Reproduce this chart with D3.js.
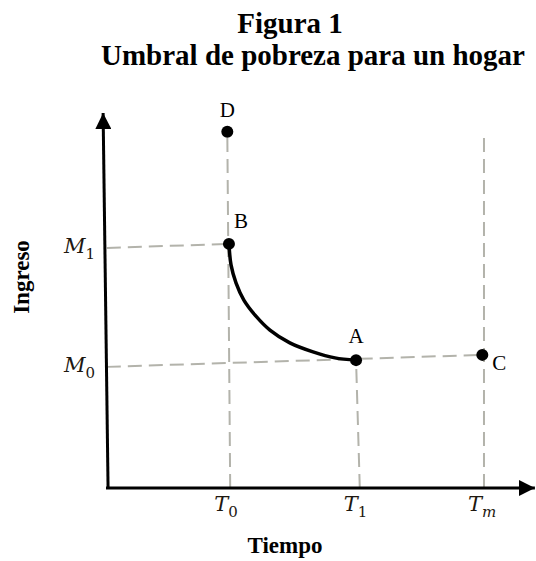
<!DOCTYPE html>
<html>
<head>
<meta charset="utf-8">
<script src="https://cdn.jsdelivr.net/npm/d3@7"></script>
<style>
  body { margin: 0; background: #fff; }
  .title { font-family: "Liberation Serif", "Times New Roman", serif; font-weight: bold; font-size: 29px; }
  .axis-title { font-family: "Liberation Serif", "Times New Roman", serif; font-weight: bold; font-size: 23px; }
  .point-label { font-family: "Liberation Serif", "Times New Roman", serif; font-size: 21px; }
  .tick-label { font-family: "DejaVu Serif", serif; font-style: italic; font-size: 21px; fill: #1e1810; }
  .tick-label tspan.sub { font-style: normal; font-size: 15px; }
  .tick-label tspan.sub.it { font-style: italic; }
</style>
</head>
<body>
<svg id="chart"></svg>
<script>
// ticks on the axes (value on the abstract 0..10 scale)
const xTicks = [{name: 'T', sub: '0', v: 3.0}, {name: 'T', sub: '1', v: 6.13}, {name: 'T', sub: 'm', v: 9.13}];
const yTicks = [{name: 'M', sub: '0', v: 3.23}, {name: 'M', sub: '1', v: 6.4}];

// labelled points
const pointNames = ['D', 'B', 'A', 'C'];
const pointX = [2.93, 2.97, 6.04, 9.09];
const pointY = [9.5, 6.51, 3.41, 3.55];

// curve from B down to A
const curveX = [2.97, 3.02, 3.14, 3.33, 3.60, 3.96, 4.44, 5.00, 5.53, 6.04];
const curveY = [6.51, 5.95, 5.47, 5.01, 4.61, 4.21, 3.87, 3.63, 3.47, 3.41];

// dashed guide segments [x1, y1, x2, y2]
const guides = [
  [0.02, 6.4, 2.97, 6.51],   // M1 -> B
  [0.02, 3.23, 9.09, 3.55],  // M0 -> C
  [3.0, 0, 2.93, 9.5],       // T0 -> D
  [6.13, 0, 6.04, 3.41],     // T1 -> A
  [9.13, 0, 9.13, 9.36]      // Tm
];

const width = 536;
const height = 561;

const svg = d3.select('#chart')
  .attr('width', width)
  .attr('height', height);

const x = d3.scaleLinear().domain([0, 10]).range([106, 520]);
const y = d3.scaleLinear().domain([0, 10]).range([488, 113]);

// titles
svg.append('text')
  .attr('class', 'title')
  .attr('x', 290)
  .attr('y', 33)
  .attr('text-anchor', 'middle')
  .text('Figura 1');
svg.append('text')
  .attr('class', 'title')
  .attr('x', 313)
  .attr('y', 65)
  .attr('text-anchor', 'middle')
  .text('Umbral de pobreza para un hogar');

// arrow heads
const defs = svg.append('defs');
defs.append('marker')
  .attr('id', 'arrow')
  .attr('markerUnits', 'userSpaceOnUse')
  .attr('viewBox', '0 -8 16 16')
  .attr('refX', 16)
  .attr('refY', 0)
  .attr('markerWidth', 16)
  .attr('markerHeight', 16)
  .attr('orient', 'auto')
  .append('path')
  .attr('d', 'M0,-8L16,0L0,8Z')
  .attr('fill', '#000');

// dashed guides
svg.append('g')
  .selectAll('line')
  .data(guides)
  .join('line')
  .attr('x1', d => x(d[0]))
  .attr('y1', d => y(d[1]))
  .attr('x2', d => x(d[2]))
  .attr('y2', d => y(d[3]))
  .attr('stroke', '#b3b3ab')
  .attr('stroke-width', 2)
  .attr('stroke-dasharray', '14 7');

// axes
svg.append('line')
  .attr('x1', x(0.05)).attr('y1', y(0))
  .attr('x2', x(-0.07)).attr('y2', y(10))
  .attr('stroke', '#000')
  .attr('stroke-width', 3)
  .attr('marker-end', 'url(#arrow)');
svg.append('line')
  .attr('x1', x(0)).attr('y1', y(0))
  .attr('x2', x(10.36)).attr('y2', y(0))
  .attr('stroke', '#000')
  .attr('stroke-width', 3)
  .attr('marker-end', 'url(#arrow)');

// curve
const line = d3.line()
  .x(d => x(d[0]))
  .y(d => y(d[1]))
  .curve(d3.curveCatmullRom.alpha(0.5));
svg.append('path')
  .datum(d3.zip(curveX, curveY))
  .attr('d', line)
  .attr('fill', 'none')
  .attr('stroke', '#000')
  .attr('stroke-width', 3.5);

// points
const points = pointNames.map((name, i) => ({name, x: pointX[i], y: pointY[i]}));
svg.append('g')
  .selectAll('circle')
  .data(points)
  .join('circle')
  .attr('cx', d => x(d.x))
  .attr('cy', d => y(d.y))
  .attr('r', 6)
  .attr('fill', '#000');

const labelOffset = {D: [0, -15], B: [5, -16], A: [0, -17], C: [10, 15]};
svg.append('g')
  .selectAll('text')
  .data(points)
  .join('text')
  .attr('class', 'point-label')
  .attr('x', d => x(d.x) + labelOffset[d.name][0])
  .attr('y', d => y(d.y) + labelOffset[d.name][1])
  .attr('text-anchor', d => d.name === 'B' || d.name === 'C' ? 'start' : 'middle')
  .text(d => d.name);

// tick labels
const xt = svg.append('g')
  .selectAll('text')
  .data(xTicks)
  .join('text')
  .attr('class', 'tick-label')
  .attr('x', d => x(d.v) - 16)
  .attr('y', 511);
xt.append('tspan').text(d => d.name);
xt.append('tspan')
  .attr('class', d => isNaN(+d.sub) ? 'sub it' : 'sub')
  .attr('dy', 6)
  .text(d => d.sub);

const yt = svg.append('g')
  .selectAll('text')
  .data(yTicks)
  .join('text')
  .attr('class', 'tick-label')
  .attr('x', 64)
  .attr('y', d => y(d.v) + 5);
yt.append('tspan').text(d => d.name);
yt.append('tspan').attr('class', 'sub').attr('dy', 6).text(d => d.sub);

// axis titles
svg.append('text')
  .attr('class', 'axis-title')
  .attr('x', 285)
  .attr('y', 553)
  .attr('text-anchor', 'middle')
  .text('Tiempo');
svg.append('text')
  .attr('class', 'axis-title')
  .attr('transform', 'translate(29, 277) rotate(-90)')
  .attr('text-anchor', 'middle')
  .text('Ingreso');
</script>
</body>
</html>
